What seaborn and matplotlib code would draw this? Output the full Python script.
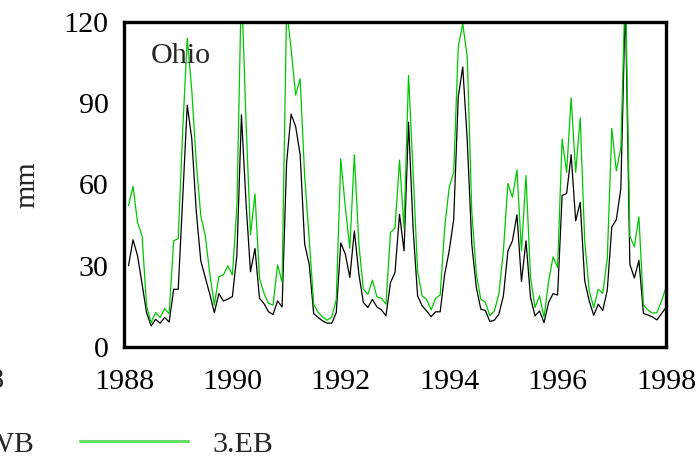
import numpy as np
import pandas as pd
import matplotlib
matplotlib.use("Agg")
import matplotlib.pyplot as plt
import seaborn as sns
from matplotlib.lines import Line2D

# ---- data (monthly, Jan 1988 .. Dec 1997) ----
start_year = 1988
n_months = 120
wb = [30, 39.6, 33.7, 23.2, 12.7, 7.8, 10.2, 8.8, 10.9, 9.2, 21.3, 21.3,
      55, 89.3, 77, 50, 31.8, 25.6, 19.5, 12.7, 19.7, 17, 17.7, 18.6,
      34, 85.7, 53.7, 27.8, 36.4, 18, 16, 13, 12, 17, 14.8, 68,
      86, 81.4, 71, 38, 30.6, 12.3, 10.9, 9.6, 8.8, 8.8, 12.7, 38.4,
      34.3, 25.7, 42.9, 26.9, 16.4, 14.6, 17.6, 14.8, 13.7, 11.5, 23.8, 27.5,
      49, 35.5, 83, 44, 18.9, 15.2, 13.3, 11.2, 13, 13, 26.9, 35.5,
      47.2, 92.3, 103.4, 76.2, 38, 22, 14, 13.5, 9.4, 9.9, 12.1, 18.9,
      35.5, 39.2, 48.8, 24.2, 39.2, 18.3, 11.5, 13.3, 9, 16.4, 19.7, 19.2,
      55.9, 56.7, 71, 46.6, 53.4, 24.4, 17, 11.7, 15.8, 13.5, 21, 44.3,
      47, 58.5, 128, 30.5, 25.5, 32, 12.4, 11.8, 11.1, 10, 12.3, 14.6]
eb = [52.2, 59.3, 46, 41, 15.2, 9, 12.7, 10.9, 14.2, 12.3, 39.2, 40,
      80, 114, 95, 68, 48.5, 41, 27, 15.5, 26, 26.6, 30, 26.6,
      52, 135, 84, 41.4, 56.5, 25.4, 19.8, 16.1, 15.5, 30.3, 24, 125,
      110, 93, 99, 63, 40, 15.8, 12.7, 11.1, 9.9, 11.1, 17.6, 69.4,
      51.6, 36.5, 71, 38, 21.3, 19.5, 24.7, 18.5, 18, 15.8, 42.3, 43.9,
      69, 43.9, 100.3, 65, 28, 18.9, 17.6, 13.7, 18, 19.2, 44, 59,
      64.5, 110.8, 119.4, 107, 50, 27, 17.6, 16.6, 11.5, 13.3, 19.5, 35.5,
      60.4, 55.3, 65.4, 35.5, 63.3, 25.7, 14.6, 18.9, 10.9, 24.2, 33.3, 29.4,
      76.8, 64.5, 92, 64.5, 84.6, 39.2, 20.7, 14.6, 21.3, 19.8, 32.7, 80.7,
      65, 73.4, 135, 40.7, 37, 48.1, 15.5, 13.7, 12.5, 12.7, 17, 22]
series_names = ["2.WB", "3.EB"]
series_colors = ["#000000", "#00c800"]
x_ticks = [1988, 1990, 1992, 1994, 1996, 1998]
y_ticks = [0, 30, 60, 90, 120]
panel_title = "Ohio"
y_label = "mm"

time = start_year + (np.arange(n_months) + 1) / 12.0
df = pd.DataFrame({
    "year": np.concatenate([time, time]),
    "value": np.concatenate([wb, eb]),
    "series": [series_names[0]] * n_months + [series_names[1]] * n_months,
})

sns.set_style("white")
plt.rcParams["font.family"] = ["Liberation Serif", "DejaVu Serif"]

fig = plt.figure(figsize=(6.98, 4.59), dpi=100)
ax = fig.add_axes([124 / 698, 1 - 347 / 459, 542 / 698, 325 / 459])

sns.lineplot(data=df, x="year", y="value", hue="series",
             palette=dict(zip(series_names, series_colors)),
             linewidth=0.9, ax=ax, legend=False, sort=False, estimator=None)

ax.set_xlim(1988, 1998)
ax.set_ylim(0, 120)
ax.set_xticks(x_ticks)
ax.set_yticks(y_ticks)
ax.set_xticklabels([str(t) for t in x_ticks])
ax.set_yticklabels([str(t) for t in y_ticks])
ax.tick_params(axis="both", direction="out", length=5, width=1.2,
               labelsize=21.6, colors="black", pad=6)
ax.tick_params(axis="x", pad=11)
ax.set_xlabel("")
ax.set_ylabel(y_label, fontsize=21.6, labelpad=17)
for s in ax.spines.values():
    s.set_linewidth(2.4)
    s.set_color("black")
ax.grid(False)

ax.text(0.05, 0.895, panel_title, transform=ax.transAxes, fontsize=21.6,
        ha="left", va="center")

# legend below (partly cut off at left as in reference)
handles = [Line2D([], [], color="#000000", linewidth=1.2),
           Line2D([], [], color="#66dd66", linewidth=2.2)]
fig.legend(handles, series_names, loc="center left",
           bbox_to_anchor=(-169 / 698, 1 - 444 / 459), ncol=2, frameon=False,
           fontsize=21.6, handlelength=3.6, handletextpad=0.83,
           columnspacing=1.5, borderpad=0, borderaxespad=0)

# fragment of neighbouring panel's tick label (cut off at the left edge, as in reference)
fig.text(4 / 698, 1 - 381 / 459, "1998", fontsize=21.6, ha="right", va="center")

fig.savefig("out.png", dpi=100)
